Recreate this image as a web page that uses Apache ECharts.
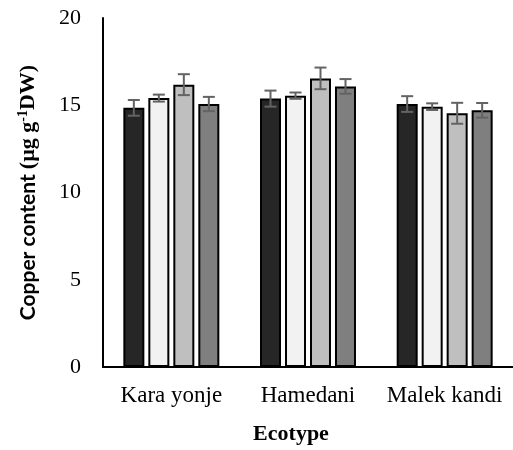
<!DOCTYPE html>
<html>
<head>
<meta charset="utf-8">
<script src="https://cdn.jsdelivr.net/npm/echarts@6/dist/echarts.min.js"></script>
<style>
html,body{margin:0;padding:0;background:#fff;}
#chart{width:513px;height:450px;}
</style>
</head>
<body>
<div id="chart"></div>
<script>
var categories = ['Kara yonje', 'Hamedani', 'Malek kandi'];
var seriesNames = ['T1', 'T2', 'T3', 'T4'];
var values1 = [14.85, 15.38, 15.07];
var values2 = [15.41, 15.55, 14.92];
var values3 = [16.18, 16.54, 14.54];
var values4 = [15.07, 16.08, 14.71];
var err1 = [0.45, 0.46, 0.45];
var err2 = [0.20, 0.18, 0.19];
var err3 = [0.60, 0.62, 0.60];
var err4 = [0.41, 0.42, 0.42];
var yTicks = [0, 5, 10, 15, 20];

var colors = ['#262626', '#f2f2f2', '#bfbfbf', '#7f7f7f'];
var allValues = [values1, values2, values3, values4];
var allErrs = [err1, err2, err3, err4];
var barW = 21, step = 25;

var chart = echarts.init(document.getElementById('chart'));
var series = [];
allValues.forEach(function (vals, i) {
  series.push({
    name: seriesNames[i],
    type: 'bar',
    data: vals,
    barWidth: barW,
    barGap: ((step - barW) / barW * 100).toFixed(1) + '%',
    itemStyle: { color: colors[i], borderColor: '#000', borderWidth: 2 },
    silent: true
  });
});
allValues.forEach(function (vals, i) {
  var d = vals.map(function (v, j) { return [j, v - allErrs[i][j], v + allErrs[i][j]]; });
  var off = (i - 1.5) * step;
  series.push({
    type: 'custom',
    data: d,
    z: 5,
    silent: true,
    renderItem: function (params, api) {
      var c = api.value(0);
      var lo = api.coord([c, api.value(1)]);
      var hi = api.coord([c, api.value(2)]);
      var x = lo[0] + off;
      var cap = 6;
      var st = { stroke: '#636363', lineWidth: 2 };
      return {
        type: 'group',
        children: [
          { type: 'line', shape: { x1: x, y1: lo[1], x2: x, y2: hi[1] }, style: st },
          { type: 'line', shape: { x1: x - cap, y1: lo[1], x2: x + cap, y2: lo[1] }, style: st },
          { type: 'line', shape: { x1: x - cap, y1: hi[1], x2: x + cap, y2: hi[1] }, style: st }
        ]
      };
    }
  });
});

chart.setOption({
  animation: false,
  backgroundColor: '#fff',
  grid: { left: 103, top: 18, width: 414, height: 350, containLabel: false },
  xAxis: {
    type: 'category',
    data: categories,
    axisLine: { lineStyle: { color: '#000', width: 2 } },
    axisTick: { show: false },
    axisLabel: { color: '#000', fontFamily: 'Liberation Serif', fontSize: 23, margin: 17, interval: 0 },
    name: 'Ecotype',
    nameLocation: 'middle',
    nameGap: 56,
    nameTextStyle: { color: '#000', fontFamily: 'Liberation Serif', fontWeight: 'bold', fontSize: 22, padding: [0, 34, 0, 0] }
  },
  yAxis: {
    type: 'value',
    min: yTicks[0],
    max: yTicks[yTicks.length - 1],
    interval: yTicks[1] - yTicks[0],
    splitLine: { show: false },
    axisLine: { show: true, lineStyle: { color: '#000', width: 2 } },
    axisTick: { show: false },
    axisLabel: { color: '#000', fontFamily: 'Liberation Serif', fontSize: 22, margin: 22 },
    name: '{a|Copper content }{b|(µg g}{s|-1}{b|DW)}',
    nameLocation: 'middle',
    nameRotate: 90,
    nameGap: 63,
    nameTextStyle: {
      color: '#000',
      rich: {
        a: { fontFamily: 'Lato', fontWeight: 'bold', fontSize: 21, color: '#000', lineHeight: 24 },
        b: { fontFamily: 'Liberation Serif', fontWeight: 'bold', fontSize: 22, color: '#000', lineHeight: 24 },
        s: { fontFamily: 'Liberation Serif', fontWeight: 'bold', fontSize: 14, color: '#000', verticalAlign: 'top', lineHeight: 14 }
      }
    }
  },
  series: series
});
</script>
</body>
</html>
